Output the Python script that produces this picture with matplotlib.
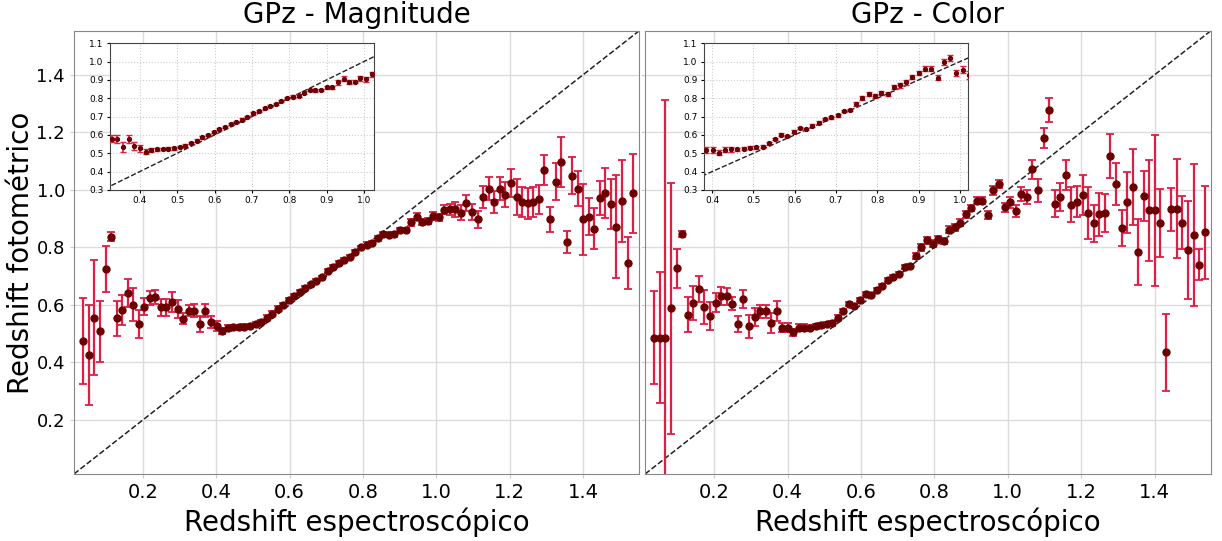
import numpy as np
import matplotlib
matplotlib.use('Agg')
import matplotlib.pyplot as plt

# Bin centres in spectroscopic redshift (shared by both panels)
z_spec = [0.037, 0.052, 0.067, 0.082, 0.098, 0.113, 0.128, 0.143, 0.158, 0.173,
          0.189, 0.204, 0.219, 0.234, 0.249, 0.264, 0.279, 0.295, 0.310, 0.325,
          0.340, 0.355, 0.370, 0.385, 0.401, 0.416, 0.431, 0.446, 0.461, 0.476,
          0.492, 0.507, 0.522, 0.537, 0.552, 0.567, 0.582, 0.598, 0.613, 0.628,
          0.643, 0.658, 0.673, 0.688, 0.704, 0.719, 0.734, 0.749, 0.764, 0.779,
          0.795, 0.810, 0.825, 0.840, 0.855, 0.870, 0.885, 0.901, 0.916, 0.931,
          0.946, 0.961, 0.976, 0.991, 1.007, 1.022, 1.037, 1.052, 1.067, 1.082,
          1.098, 1.113, 1.128, 1.143, 1.158, 1.173, 1.188, 1.204, 1.219, 1.234,
          1.249, 1.264, 1.279, 1.294, 1.310, 1.325, 1.340, 1.355, 1.370, 1.385,
          1.401, 1.416, 1.431, 1.446, 1.461, 1.476, 1.491, 1.507, 1.522, 1.537]

# GPz trained on magnitudes: mean photo-z per bin and its error
mag_zphot = [0.474, 0.425, 0.555, 0.508, 0.725, 0.837, 0.553, 0.581, 0.641, 0.600,
             0.533, 0.594, 0.623, 0.627, 0.592, 0.592, 0.610, 0.586, 0.552, 0.580,
             0.580, 0.533, 0.580, 0.540, 0.527, 0.509, 0.519, 0.522, 0.523, 0.524,
             0.526, 0.534, 0.540, 0.556, 0.569, 0.587, 0.601, 0.618, 0.631, 0.645,
             0.658, 0.671, 0.684, 0.696, 0.717, 0.731, 0.746, 0.757, 0.768, 0.784,
             0.800, 0.809, 0.815, 0.831, 0.845, 0.844, 0.845, 0.860, 0.860, 0.887,
             0.907, 0.887, 0.891, 0.909, 0.904, 0.931, 0.932, 0.932, 0.921, 0.955,
             0.924, 0.897, 0.976, 1.003, 0.959, 1.003, 0.983, 1.023, 0.975, 0.958,
             0.953, 0.958, 0.967, 1.069, 0.897, 1.028, 1.097, 0.819, 1.049, 1.004,
             0.897, 0.907, 0.865, 0.973, 0.990, 0.951, 0.872, 0.961, 0.745, 0.988]
mag_err = [0.150, 0.175, 0.200, 0.107, 0.080, 0.015, 0.060, 0.052, 0.048, 0.057,
           0.050, 0.030, 0.025, 0.025, 0.030, 0.030, 0.035, 0.030, 0.020, 0.020,
           0.022, 0.028, 0.022, 0.020, 0.018, 0.012, 0.010, 0.008, 0.008, 0.008,
           0.008, 0.008, 0.008, 0.008, 0.008, 0.008, 0.006, 0.006, 0.006, 0.006,
           0.006, 0.006, 0.006, 0.006, 0.006, 0.006, 0.006, 0.006, 0.006, 0.006,
           0.006, 0.008, 0.008, 0.008, 0.008, 0.008, 0.008, 0.008, 0.008, 0.012,
           0.012, 0.010, 0.010, 0.015, 0.013, 0.015, 0.020, 0.025, 0.025, 0.028,
           0.028, 0.030, 0.039, 0.040, 0.038, 0.040, 0.043, 0.048, 0.062, 0.053,
           0.055, 0.052, 0.050, 0.052, 0.045, 0.065, 0.086, 0.037, 0.065, 0.060,
           0.124, 0.063, 0.071, 0.059, 0.087, 0.087, 0.178, 0.143, 0.091, 0.137]

# GPz trained on colours
col_zphot = [0.486, 0.486, 0.483, 0.588, 0.727, 0.846, 0.566, 0.607, 0.654, 0.594,
             0.562, 0.607, 0.630, 0.630, 0.604, 0.532, 0.620, 0.526, 0.558, 0.578,
             0.578, 0.537, 0.578, 0.520, 0.520, 0.504, 0.520, 0.521, 0.521, 0.525,
             0.529, 0.533, 0.536, 0.555, 0.578, 0.602, 0.595, 0.618, 0.638, 0.633,
             0.651, 0.667, 0.687, 0.696, 0.707, 0.731, 0.736, 0.769, 0.800, 0.824,
             0.813, 0.829, 0.822, 0.862, 0.870, 0.886, 0.915, 0.937, 0.962, 0.962,
             0.912, 0.998, 1.020, 0.939, 0.956, 0.926, 0.985, 0.975, 1.071, 0.999,
             1.180, 1.278, 0.951, 0.976, 1.052, 0.949, 0.958, 0.982, 0.920, 0.883,
             0.915, 0.920, 1.117, 1.021, 0.867, 0.957, 1.010, 0.785, 0.977, 0.929,
             0.929, 0.886, 0.435, 0.932, 0.934, 0.886, 0.791, 0.844, 0.740, 0.852]
col_err = [0.162, 0.227, 0.830, 0.437, 0.068, 0.010, 0.062, 0.058, 0.045, 0.059,
           0.049, 0.033, 0.031, 0.030, 0.022, 0.028, 0.030, 0.040, 0.030, 0.022,
           0.022, 0.036, 0.034, 0.016, 0.016, 0.013, 0.012, 0.012, 0.010, 0.008,
           0.008, 0.008, 0.008, 0.008, 0.007, 0.007, 0.007, 0.007, 0.007, 0.007,
           0.007, 0.007, 0.007, 0.007, 0.007, 0.007, 0.007, 0.010, 0.012, 0.012,
           0.012, 0.012, 0.012, 0.012, 0.012, 0.012, 0.012, 0.012, 0.012, 0.012,
           0.013, 0.015, 0.015, 0.015, 0.020, 0.022, 0.025, 0.025, 0.032, 0.040,
           0.035, 0.042, 0.047, 0.048, 0.053, 0.060, 0.054, 0.068, 0.090, 0.064,
           0.074, 0.065, 0.077, 0.074, 0.063, 0.106, 0.131, 0.115, 0.087, 0.176,
           0.262, 0.118, 0.134, 0.074, 0.172, 0.093, 0.170, 0.247, 0.054, 0.161]

titles = ['GPz - Magnitude', 'GPz - Color']
lims = (0.012, 1.553)
inset_xlims = [(0.32, 1.027), (0.38, 1.02)]

fig = plt.figure(figsize=(12.22, 5.41), dpi=100)
ax_pos = [[0.0606, 0.124, 0.4624, 0.819], [0.528, 0.124, 0.4628, 0.819]]
inset_pos = [[0.090, 0.649, 0.216, 0.271], [0.576, 0.649, 0.2163, 0.271]]
series = [(mag_zphot, mag_err), (col_zphot, col_err)]

for i in range(2):
    zphot, err = series[i]
    ax = fig.add_axes(ax_pos[i])
    ax.errorbar(z_spec, zphot, yerr=err, fmt='o', color='#6b0000', ms=5,
                ecolor='#dc1f45', elinewidth=1.6, capsize=3, capthick=1.3, zorder=3)
    ax.plot(lims, lims, '--', color='#222222', lw=1.1, zorder=2)
    ax.set_xlim(lims)
    ax.set_ylim(lims)
    ax.set_xticks([0.2, 0.4, 0.6, 0.8, 1.0, 1.2, 1.4])
    ax.set_yticks([0.2, 0.4, 0.6, 0.8, 1.0, 1.2, 1.4])
    ax.grid(True, color='#dcdcdc', lw=1.0)
    ax.set_axisbelow(True)
    ax.tick_params(axis='x', labelsize=14, color='#cccccc', length=3)
    ax.tick_params(axis='y', labelsize=13, color='#cccccc', length=3)
    for s in ax.spines.values():
        s.set_color('#888888')
    ax.set_title(titles[i], fontsize=20)
    ax.set_xlabel('Redshift espectroscópico', fontsize=20)
    if i == 0:
        ax.set_ylabel('Redshift fotométrico', fontsize=20, labelpad=1)
    else:
        ax.set_yticklabels([])

    # zoomed view of the middle redshift range
    ins = fig.add_axes(inset_pos[i])
    ins.errorbar(z_spec, zphot, yerr=err, fmt='o', color='#6b0000', ms=2.8,
                 ecolor='#dc1f45', elinewidth=1.2, capsize=2, capthick=1.0, zorder=3)
    ins.plot([0, 1.2], [0, 1.2], '--', color='#222222', lw=1.0, zorder=2)
    ins.set_xlim(inset_xlims[i])
    ins.set_ylim(0.3, 1.1)
    ins.set_xticks([0.4, 0.5, 0.6, 0.7, 0.8, 0.9, 1.0])
    ins.set_yticks([0.3, 0.4, 0.5, 0.6, 0.7, 0.8, 0.9, 1.0, 1.1])
    ins.grid(True, ls=':', color='#cccccc', lw=0.8)
    ins.set_axisbelow(True)
    ins.tick_params(labelsize=6.5, length=2.5, pad=2)
    for s in ins.spines.values():
        s.set_color('#444444')

fig.savefig('out.png', dpi=100)
